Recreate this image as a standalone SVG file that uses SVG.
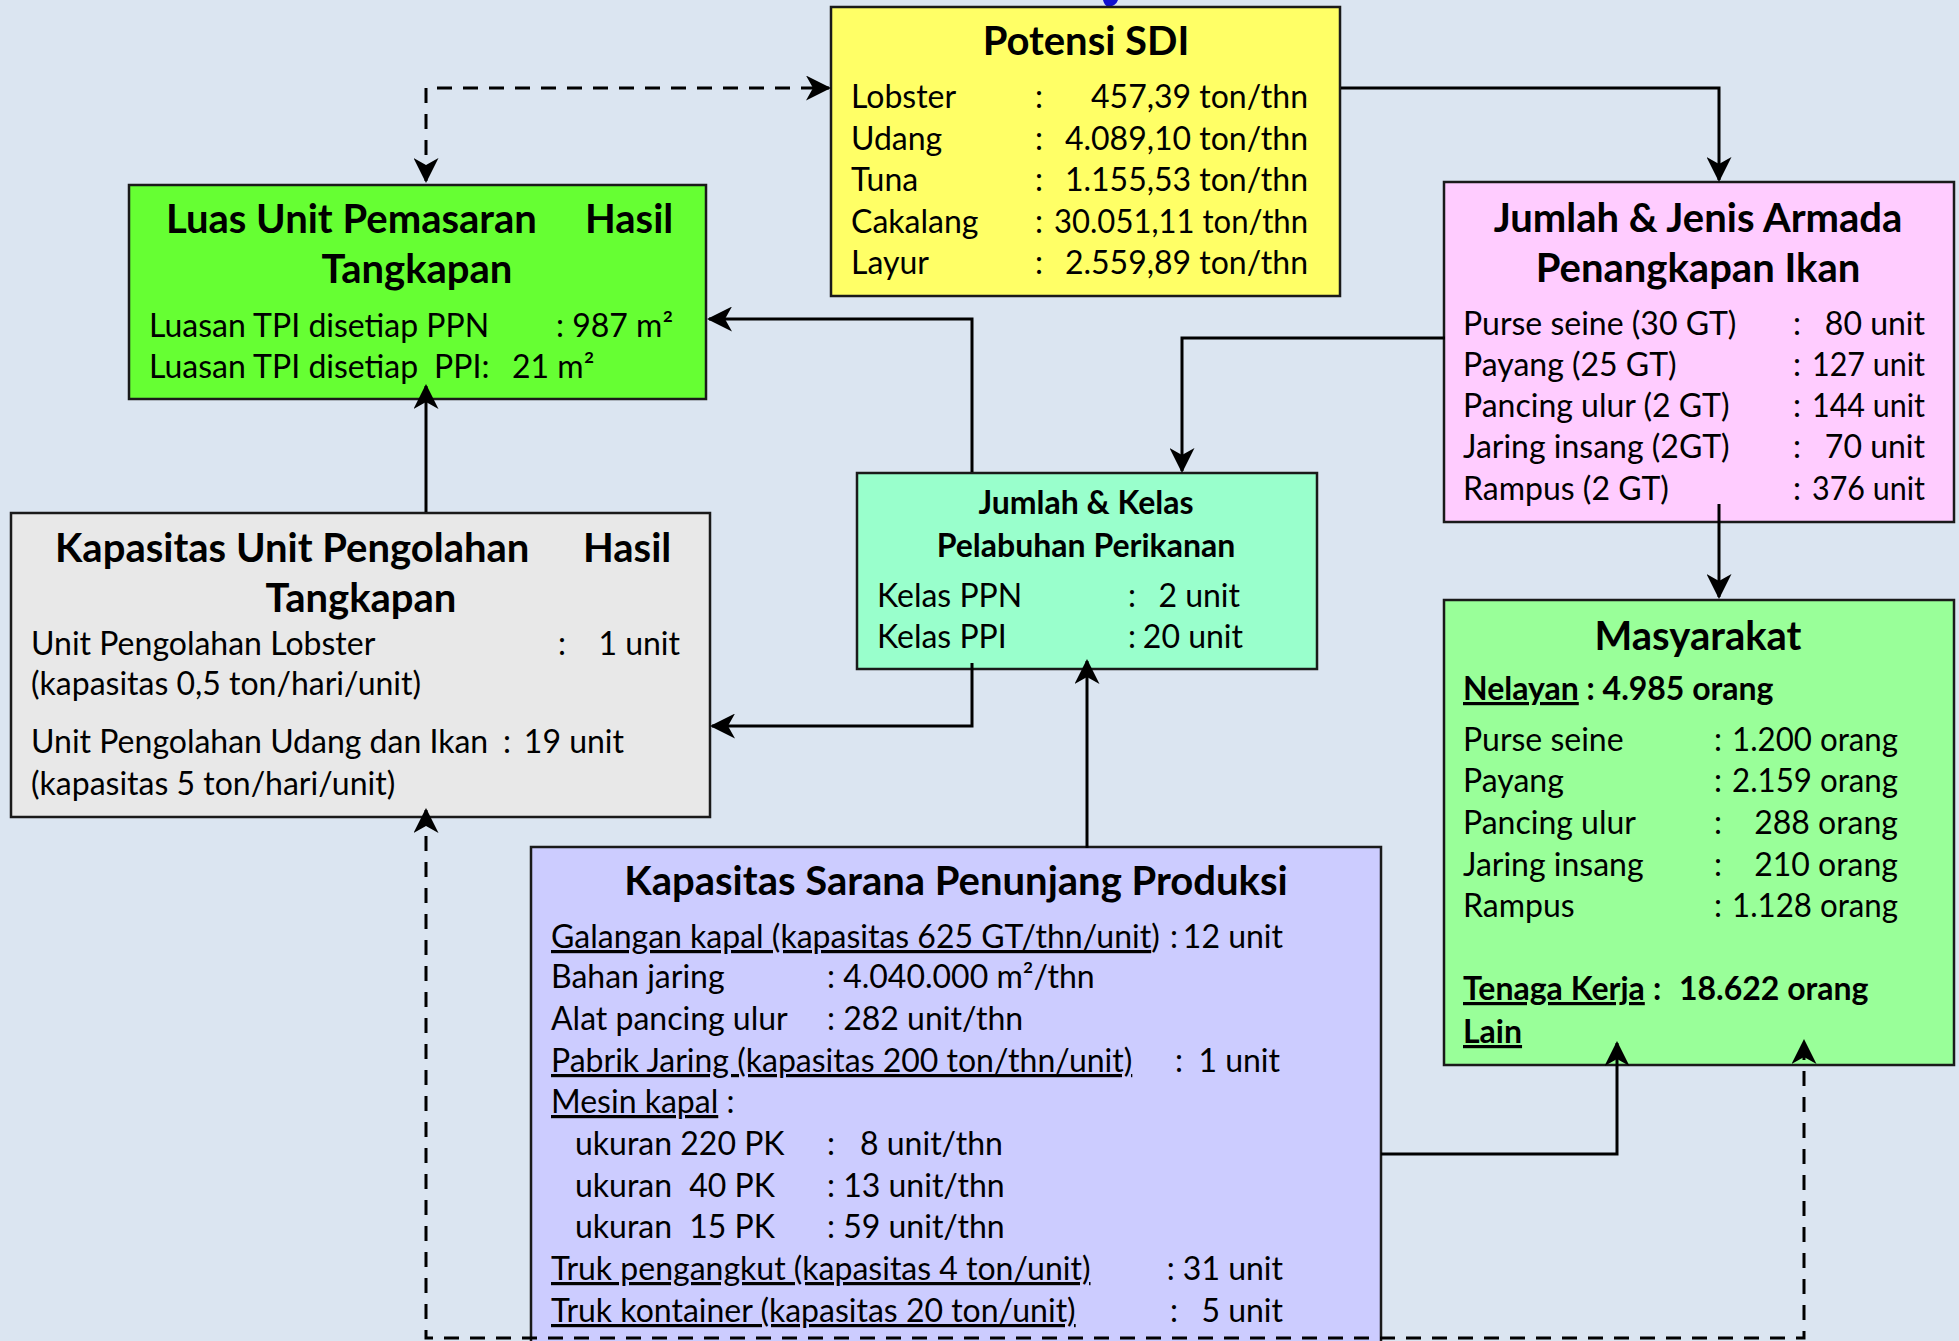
<svg xmlns="http://www.w3.org/2000/svg" width="1959" height="1341" viewBox="0 0 1959 1341">
  <defs>
    <style>
      .box { stroke: #1a1a1a; stroke-width: 2.5; }
      .t { font-family: Lato, "Liberation Sans", sans-serif; font-size: 32px; fill: #000; }
      .h { font-family: Lato, "Liberation Sans", sans-serif; font-size: 40px; font-weight: bold; fill: #000; }
      .hs { font-family: Lato, "Liberation Sans", sans-serif; font-size: 32px; font-weight: bold; fill: #000; }
      .bd { font-weight: bold; }
      .u { text-decoration: underline; }
      .m { text-anchor: middle; }
      .e { text-anchor: end; }
      .link { fill: none; stroke: #000; stroke-width: 3; }
      .dash { stroke-dasharray: 15 11; }
    </style>
    <marker id="arrow" viewBox="0 0 25 25" refX="23" refY="12.5" markerWidth="25" markerHeight="25" markerUnits="userSpaceOnUse" orient="auto-start-reverse">
      <path d="M0,0 L25,12.5 L0,25 L7,12.5 Z" fill="#000"/>
    </marker>
  </defs>

  <rect width="1959" height="1341" fill="#DBE5F1"/>

  <!-- fragment of blue mark at the top edge -->
  <path d="M1103,0 L1118,0 Q1116,6 1108,7 Q1104,5 1103,0 Z" fill="#1010D0"/>

  <!-- Potensi SDI -->
  <g id="potensi-sdi">
    <rect class="box" x="831" y="7" width="509" height="289" fill="#FFFF66"/>
    <text class="h m" x="1086" y="55">Potensi SDI</text>
    <text class="t" x="851" y="108">Lobster</text>
    <text class="t" x="851" y="150">Udang</text>
    <text class="t" x="851" y="191">Tuna</text>
    <text class="t" x="851" y="233">Cakalang</text>
    <text class="t" x="851" y="274">Layur</text>
    <text class="t m" x="1039" y="108">:</text>
    <text class="t m" x="1039" y="150">:</text>
    <text class="t m" x="1039" y="191">:</text>
    <text class="t m" x="1039" y="233">:</text>
    <text class="t m" x="1039" y="274">:</text>
    <text class="t e" x="1308" y="108">457,39 ton/thn</text>
    <text class="t e" x="1308" y="150">4.089,10 ton/thn</text>
    <text class="t e" x="1308" y="191">1.155,53 ton/thn</text>
    <text class="t" x="1054" y="233" textLength="254" lengthAdjust="spacingAndGlyphs">30.051,11 ton/thn</text>
    <text class="t e" x="1308" y="274">2.559,89 ton/thn</text>
  </g>

  <!-- Luas Unit Pemasaran Hasil Tangkapan -->
  <g id="luas-unit-pemasaran">
    <rect class="box" x="129" y="185" width="577" height="214" fill="#66FF33"/>
    <text class="h" x="166" y="233">Luas Unit Pemasaran</text>
    <text class="h" x="585" y="233">Hasil</text>
    <text class="h m" x="417" y="283">Tangkapan</text>
    <text class="t" x="149" y="337">Luasan TPI disetiap PPN</text>
    <text class="t" x="556" y="337">: 987 m²</text>
    <text class="t" x="149" y="378">Luasan TPI disetiap</text>
    <text class="t" x="434" y="378">PPI:</text>
    <text class="t" x="512" y="378">21 m²</text>
  </g>

  <!-- Jumlah & Jenis Armada Penangkapan Ikan -->
  <g id="armada-penangkapan">
    <rect class="box" x="1444" y="182" width="510" height="340" fill="#FFCCFF"/>
    <text class="h m" x="1698" y="232">Jumlah &amp; Jenis Armada</text>
    <text class="h m" x="1698" y="282">Penangkapan Ikan</text>
    <text class="t" x="1463" y="335">Purse seine (30 GT)</text>
    <text class="t" x="1463" y="376">Payang (25 GT)</text>
    <text class="t" x="1463" y="417">Pancing ulur (2 GT)</text>
    <text class="t" x="1463" y="458">Jaring insang (2GT)</text>
    <text class="t" x="1463" y="500">Rampus (2 GT)</text>
    <text class="t m" x="1797" y="335">:</text>
    <text class="t m" x="1797" y="376">:</text>
    <text class="t m" x="1797" y="417">:</text>
    <text class="t m" x="1797" y="458">:</text>
    <text class="t m" x="1797" y="500">:</text>
    <text class="t e" x="1925" y="335">80 unit</text>
    <text class="t" x="1812" y="376" textLength="113" lengthAdjust="spacingAndGlyphs">127 unit</text>
    <text class="t" x="1812" y="417" textLength="113" lengthAdjust="spacingAndGlyphs">144 unit</text>
    <text class="t e" x="1925" y="458">70 unit</text>
    <text class="t" x="1812" y="500" textLength="113" lengthAdjust="spacingAndGlyphs">376 unit</text>
  </g>

  <!-- Kapasitas Unit Pengolahan Hasil Tangkapan -->
  <g id="unit-pengolahan">
    <rect class="box" x="11" y="513" width="699" height="304" fill="#E8E8E8"/>
    <text class="h" x="55" y="562">Kapasitas Unit Pengolahan</text>
    <text class="h" x="583" y="562">Hasil</text>
    <text class="h m" x="361" y="612">Tangkapan</text>
    <text class="t" x="31" y="655">Unit Pengolahan Lobster</text>
    <text class="t m" x="562" y="655">:</text>
    <text class="t e" x="680" y="655">1 unit</text>
    <text class="t" x="31" y="695">(kapasitas 0,5 ton/hari/unit)</text>
    <text class="t" x="31" y="753">Unit Pengolahan Udang dan Ikan</text>
    <text class="t m" x="507" y="753">:</text>
    <text class="t e" x="624" y="753">19 unit</text>
    <text class="t" x="31" y="795">(kapasitas 5 ton/hari/unit)</text>
  </g>

  <!-- Jumlah & Kelas Pelabuhan Perikanan -->
  <g id="pelabuhan-perikanan">
    <rect class="box" x="857" y="473" width="460" height="196" fill="#99FFCC"/>
    <text class="hs m" x="1086" y="514">Jumlah &amp; Kelas</text>
    <text class="hs m" x="1086" y="557">Pelabuhan Perikanan</text>
    <text class="t" x="877" y="607">Kelas PPN</text>
    <text class="t" x="877" y="648">Kelas PPI</text>
    <text class="t m" x="1132" y="607">:</text>
    <text class="t m" x="1132" y="648">:</text>
    <text class="t e" x="1240" y="607">2 unit</text>
    <text class="t e" x="1243" y="648">20 unit</text>
  </g>

  <!-- Masyarakat -->
  <g id="masyarakat">
    <rect class="box" x="1444" y="600" width="510" height="465" fill="#99FF99"/>
    <text class="h m" x="1698" y="650">Masyarakat</text>
    <text class="t bd" x="1463" y="700"><tspan class="u">Nelayan</tspan> : 4.985 orang</text>
    <text class="t" x="1463" y="751">Purse seine</text>
    <text class="t" x="1463" y="792">Payang</text>
    <text class="t" x="1463" y="834">Pancing ulur</text>
    <text class="t" x="1463" y="876">Jaring insang</text>
    <text class="t" x="1463" y="917">Rampus</text>
    <text class="t m" x="1718" y="751">:</text>
    <text class="t m" x="1718" y="792">:</text>
    <text class="t m" x="1718" y="834">:</text>
    <text class="t m" x="1718" y="876">:</text>
    <text class="t m" x="1718" y="917">:</text>
    <text class="t" x="1732" y="751" textLength="166" lengthAdjust="spacingAndGlyphs">1.200 orang</text>
    <text class="t" x="1732" y="792" textLength="166" lengthAdjust="spacingAndGlyphs">2.159 orang</text>
    <text class="t e" x="1898" y="834">288 orang</text>
    <text class="t e" x="1898" y="876">210 orang</text>
    <text class="t" x="1732" y="917" textLength="166" lengthAdjust="spacingAndGlyphs">1.128 orang</text>
    <text class="t bd" x="1463" y="1000"><tspan class="u">Tenaga Kerja</tspan></text>
    <text class="t bd m" x="1657" y="1000">:</text>
    <text class="t bd" x="1679" y="1000">18.622 orang</text>
    <text class="t bd" x="1463" y="1043"><tspan class="u">Lain</tspan></text>
  </g>

  <!-- Kapasitas Sarana Penunjang Produksi -->
  <g id="sarana-penunjang">
    <rect class="box" x="531" y="847" width="850" height="520" fill="#CCCCFF"/>
    <text class="h m" x="956" y="895">Kapasitas Sarana Penunjang Produksi</text>
    <text class="t" x="551" y="948"><tspan class="u">Galangan kapal (kapasitas 625 GT/thn/unit</tspan>)</text>
    <text class="t m" x="1174" y="948">:</text>
    <text class="t e" x="1283" y="948">12 unit</text>
    <text class="t" x="551" y="988">Bahan jaring</text>
    <text class="t" x="827" y="988">: 4.040.000 m²/thn</text>
    <text class="t" x="551" y="1030">Alat pancing ulur</text>
    <text class="t" x="827" y="1030">: 282 unit/thn</text>
    <text class="t" x="551" y="1072"><tspan class="u">Pabrik Jaring (kapasitas 200 ton/thn/unit)</tspan></text>
    <text class="t m" x="1179" y="1072">:</text>
    <text class="t e" x="1280" y="1072">1 unit</text>
    <text class="t" x="551" y="1113"><tspan class="u">Mesin kapal</tspan> :</text>
    <text class="t" x="575" y="1155">ukuran 220 PK</text>
    <text class="t m" x="831" y="1155">:</text>
    <text class="t" x="860" y="1155">8 unit/thn</text>
    <text class="t" x="575" y="1197">ukuran</text>
    <text class="t e" x="775" y="1197">40 PK</text>
    <text class="t" x="827" y="1197">: 13 unit/thn</text>
    <text class="t" x="575" y="1238">ukuran</text>
    <text class="t e" x="775" y="1238">15 PK</text>
    <text class="t" x="827" y="1238">: 59 unit/thn</text>
    <text class="t" x="551" y="1280"><tspan class="u">Truk pengangkut (kapasitas 4 ton/unit)</tspan></text>
    <text class="t e" x="1283" y="1280">: 31 unit</text>
    <text class="t" x="551" y="1322"><tspan class="u">Truk kontainer (kapasitas 20 ton/unit)</tspan></text>
    <text class="t m" x="1174" y="1322">:</text>
    <text class="t e" x="1283" y="1322">5 unit</text>
  </g>

  <!-- connectors -->
  <g id="connectors">
    <path class="link dash" d="M426,181 V88 H829" marker-start="url(#arrow)" marker-end="url(#arrow)"/>
    <path class="link" d="M1341,88 H1719 V180" marker-end="url(#arrow)"/>
    <path class="link" d="M1445,338 H1182 V471" marker-end="url(#arrow)"/>
    <path class="link" d="M1719,504 V597" marker-end="url(#arrow)"/>
    <path class="link" d="M972,472 V319 H709" marker-end="url(#arrow)"/>
    <path class="link" d="M972,663 V726 H712" marker-end="url(#arrow)"/>
    <path class="link" d="M426,512 V386" marker-end="url(#arrow)"/>
    <path class="link" d="M1087,848 V661" marker-end="url(#arrow)"/>
    <path class="link" d="M1381,1154 H1617 V1043" marker-end="url(#arrow)"/>
    <path class="link dash" d="M426,810 V1338 H1804 V1041" marker-start="url(#arrow)" marker-end="url(#arrow)"/>
  </g>
</svg>
